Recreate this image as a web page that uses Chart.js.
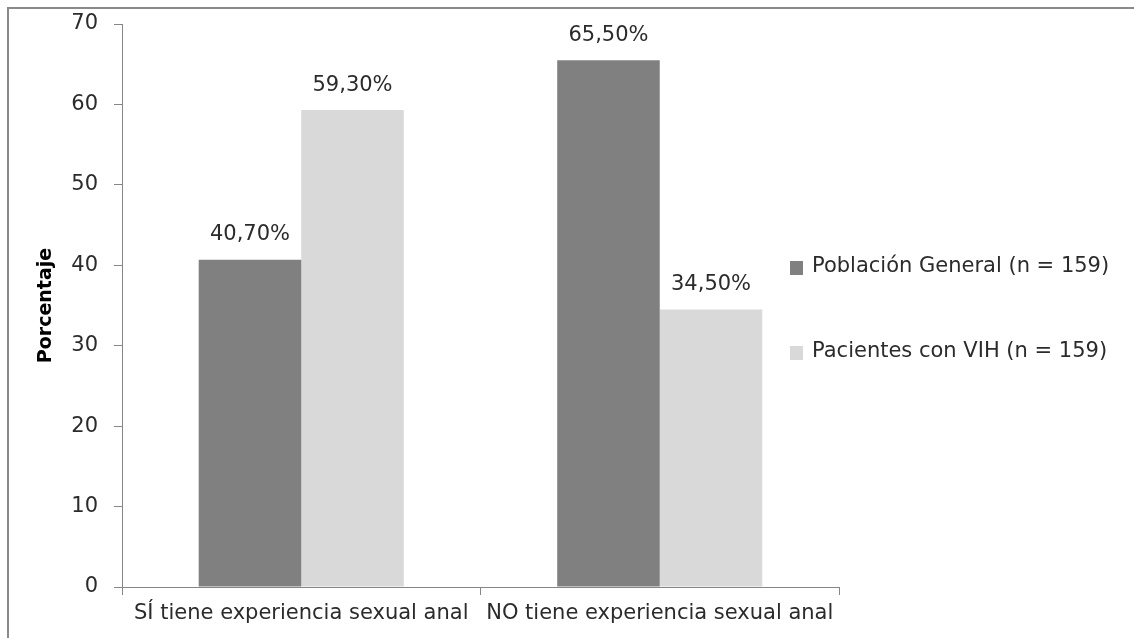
<!DOCTYPE html>
<html>
<head>
<meta charset="utf-8">
<script src="https://cdn.jsdelivr.net/npm/chart.js@4/dist/chart.umd.min.js"></script>
<style>
  html, body { margin: 0; padding: 0; background: #fff; overflow: hidden; }
  #wrap { width: 1134px; height: 638px; position: relative; }
  canvas { display: block; }
</style>
</head>
<body>
<div id="wrap"><canvas id="c" width="1134" height="638"></canvas></div>
<script>
const categories = ['SÍ tiene experiencia sexual anal', 'NO tiene experiencia sexual anal'];
const seriesNames = ['Población General (n = 159)', 'Pacientes con VIH (n = 159)'];
const poblacionGeneral = [40.7, 65.5];
const pacientesVIH = [59.3, 34.5];
const yTicks = [0, 10, 20, 30, 40, 50, 60, 70];
const yTitle = 'Porcentaje';

const FONT = '"DejaVu Sans", sans-serif';
const TEXT = '#2b2b2b';
const AXIS = '#868686';
const colors = ['#808080', '#d9d9d9'];

// outer frame of the chart object
const framePlugin = {
  id: 'frame',
  beforeDraw(chart) {
    const ctx = chart.ctx;
    ctx.save();
    ctx.fillStyle = '#fff';
    ctx.fillRect(0, 0, chart.width, chart.height);
    ctx.strokeStyle = '#8a8a8a';
    ctx.lineWidth = 2;
    ctx.beginPath();
    ctx.moveTo(8, chart.height + 5);
    ctx.lineTo(8, 8);
    ctx.lineTo(chart.width + 5, 8);
    ctx.stroke();
    ctx.restore();
  }
};

// value labels above each bar, y-axis title and right-hand legend
const annotatePlugin = {
  id: 'annotate',
  afterDatasetsDraw(chart) {
    const ctx = chart.ctx;
    ctx.save();
    ctx.fillStyle = TEXT;
    ctx.font = '21px ' + FONT;
    ctx.textAlign = 'center';
    ctx.textBaseline = 'middle';
    chart.data.datasets.forEach((ds, di) => {
      const meta = chart.getDatasetMeta(di);
      meta.data.forEach((bar, i) => {
        const v = ds.data[i];
        const txt = v.toFixed(2).replace('.', ',') + '%';
        ctx.fillText(txt, bar.x, bar.y - 25);
      });
    });

    // y title
    const area = chart.chartArea;
    ctx.save();
    ctx.translate(46, (area.top + area.bottom) / 2);
    ctx.rotate(-Math.PI / 2);
    ctx.font = 'bold 19px ' + FONT;
    ctx.textBaseline = 'middle';
    ctx.textAlign = 'center';
    ctx.fillStyle = '#000';
    ctx.fillText(yTitle, 0, 0);
    ctx.restore();

    // legend
    const legendY = [267, 352];
    ctx.font = '21px ' + FONT;
    ctx.textAlign = 'left';
    ctx.textBaseline = 'middle';
    chart.data.datasets.forEach((ds, di) => {
      const y = legendY[di];
      ctx.fillStyle = ds.backgroundColor;
      ctx.fillRect(790, y - 6, 13, 14);
      ctx.fillStyle = TEXT;
      ctx.fillText(ds.label, 812, y);
    });
    ctx.restore();
  }
};

new Chart(document.getElementById('c'), {
  type: 'bar',
  data: {
    labels: categories,
    datasets: [
      { label: seriesNames[0], data: poblacionGeneral, backgroundColor: colors[0] },
      { label: seriesNames[1], data: pacientesVIH, backgroundColor: colors[1] }
    ]
  },
  options: {
    responsive: false,
    animation: false,
    devicePixelRatio: 1,
    layout: { padding: { top: 24, right: 295, left: 0, bottom: 0 } },
    datasets: { bar: { categoryPercentage: 0.572, barPercentage: 1.0 } },
    plugins: { legend: { display: false }, tooltip: { enabled: false } },
    scales: {
      x: {
        grid: { display: true, drawOnChartArea: false, offset: true, tickLength: 8, color: AXIS },
        border: { color: AXIS, width: 1 },
        ticks: { color: TEXT, font: { family: FONT, size: 21 }, padding: 6, maxRotation: 0, autoSkip: false },
        afterFit(scale) { scale.height = 51; scale.paddingLeft = 0; scale.paddingRight = 0; }
      },
      y: {
        min: 0, max: 70,
        afterBuildTicks(scale) { scale.ticks = yTicks.map(v => ({ value: v })); },
        grid: { display: true, drawOnChartArea: false, tickLength: 8, color: AXIS },
        border: { color: AXIS, width: 1 },
        ticks: { color: TEXT, font: { family: FONT, size: 21 }, padding: 16 },
        afterFit(scale) { scale.width = 122; scale.paddingTop = 0; scale.paddingBottom = 0; }
      }
    }
  },
  plugins: [framePlugin, annotatePlugin]
});
</script>
</body>
</html>
